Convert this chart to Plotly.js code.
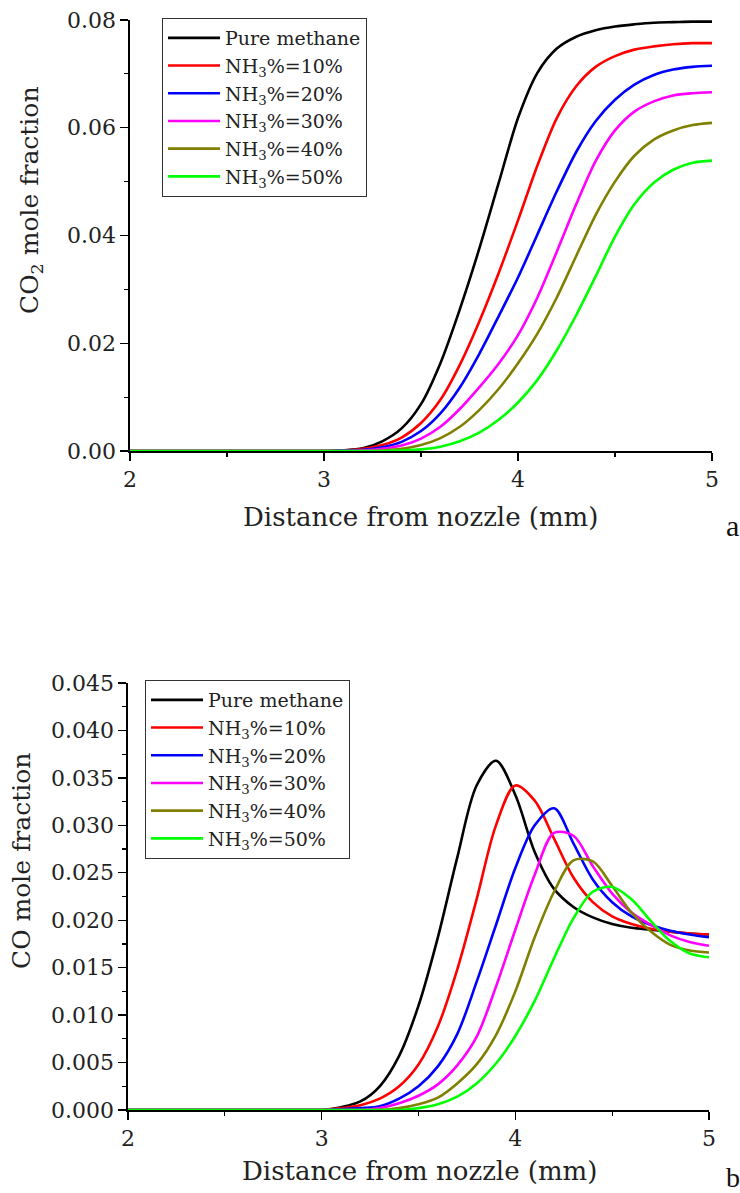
<!DOCTYPE html>
<html>
<head>
<meta charset="utf-8">
<script src="https://cdn.plot.ly/plotly-3.0.1.min.js"></script>
<style>html,body{margin:0;padding:0;background:#fff;}#chart{width:740px;height:1193px;}</style>
</head>
<body>
<div id="chart"></div>
<script>
// Distance from nozzle (mm)
const distance = [2.0,2.1,2.2,2.3,2.4,2.5,2.6,2.7,2.8,2.9,3.0,3.1,3.2,3.3,3.4,3.5,3.6,3.7,3.8,3.9,4.0,4.1,4.2,4.3,4.4,4.5,4.6,4.7,4.8,4.9,5.0];

const seriesNames = ["Pure methane","NH<sub>3</sub>%=10%","NH<sub>3</sub>%=20%","NH<sub>3</sub>%=30%","NH<sub>3</sub>%=40%","NH<sub>3</sub>%=50%"];
const seriesColors = ["#000000","#ff0000","#0000ff","#ff00ff","#808000","#00ff00"];

// (a) CO2 mole fraction
const co2_pure = [0,0,0,0,0,0,0,0,0,0,0,0.0001,0.0005,0.0018,0.0042,0.0087,0.0163,0.0263,0.0375,0.0497,0.0618,0.0702,0.0747,0.0769,0.0781,0.0788,0.0792,0.0795,0.0796,0.0797,0.0797];
const co2_nh10 = [0,0,0,0,0,0,0,0,0,0,0,0.0001,0.0004,0.0011,0.0025,0.0052,0.0095,0.0160,0.0240,0.0330,0.0428,0.0530,0.0618,0.0677,0.0713,0.0733,0.0745,0.0751,0.0755,0.0757,0.0757];
const co2_nh20 = [0,0,0,0,0,0,0,0,0,0,0,0.0001,0.0002,0.0007,0.0017,0.0037,0.0070,0.0118,0.0180,0.0250,0.0322,0.0402,0.0482,0.0555,0.0612,0.0652,0.0680,0.0698,0.0708,0.0713,0.0715];
const co2_nh30 = [0,0,0,0,0,0,0,0,0,0,0,0,0.0001,0.0004,0.0010,0.0023,0.0045,0.0078,0.0118,0.0162,0.0215,0.0285,0.0370,0.0458,0.0538,0.0595,0.0630,0.0649,0.0660,0.0664,0.0666];
const co2_nh40 = [0,0,0,0,0,0,0,0,0,0,0,0,0,0.0001,0.0004,0.0011,0.0024,0.0045,0.0076,0.0115,0.0163,0.0218,0.0285,0.0362,0.0438,0.0500,0.0548,0.0578,0.0595,0.0605,0.0609];
const co2_nh50 = [0,0,0,0,0,0,0,0,0,0,0,0,0,0,0.0001,0.0003,0.0008,0.0018,0.0034,0.0058,0.0090,0.0132,0.0187,0.0252,0.0324,0.0398,0.0458,0.0498,0.0522,0.0535,0.0539];

// (b) CO mole fraction
const co_pure = [0,0,0,0,0,0,0,0,0,0,0,0.0003,0.0009,0.0025,0.0057,0.0110,0.0182,0.0266,0.0342,0.0368,0.0332,0.0272,0.0233,0.0214,0.0203,0.0196,0.0192,0.0190,0.0188,0.0186,0.0185];
const co_nh10 = [0,0,0,0,0,0,0,0,0,0,0,0.0002,0.0005,0.0012,0.0025,0.0048,0.0088,0.0148,0.0222,0.0300,0.0342,0.0326,0.0286,0.0245,0.0219,0.0204,0.0196,0.0191,0.0188,0.0186,0.0185];
const co_nh20 = [0,0,0,0,0,0,0,0,0,0,0,0.0001,0.0002,0.0004,0.0012,0.0025,0.0046,0.0080,0.0135,0.0195,0.0255,0.0300,0.0318,0.0281,0.0243,0.0219,0.0204,0.0195,0.0189,0.0185,0.0182];
const co_nh30 = [0,0,0,0,0,0,0,0,0,0,0,0,0,0.0002,0.0007,0.0015,0.0027,0.0047,0.0077,0.0130,0.0190,0.0248,0.0292,0.0289,0.0257,0.0228,0.0208,0.0195,0.0184,0.0177,0.0173];
const co_nh40 = [0,0,0,0,0,0,0,0,0,0,0,0,0,0,0.0002,0.0006,0.0013,0.0028,0.0048,0.0079,0.0125,0.0182,0.0230,0.0263,0.0262,0.0236,0.0208,0.0188,0.0174,0.0168,0.0166];
const co_nh50 = [0,0,0,0,0,0,0,0,0,0,0,0,0,0,0,0.0002,0.0006,0.0014,0.0028,0.0049,0.0078,0.0115,0.0160,0.0202,0.0230,0.0235,0.0222,0.0199,0.0178,0.0165,0.0161];

const xTickVals = [2,3,4,5];
const xTickText = ["2","3","4","5"];

const co2Series = [co2_pure,co2_nh10,co2_nh20,co2_nh30,co2_nh40,co2_nh50];
const coSeries = [co_pure,co_nh10,co_nh20,co_nh30,co_nh40,co_nh50];

const FONT = "'DejaVu Serif', 'Liberation Serif', serif";
const W = 740, H = 1193;
const px = v => v / W;
const py = v => 1 - v / H;

const traces = [];
co2Series.forEach((ys, i) => {
  traces.push({x: distance, y: ys, type: 'scatter', mode: 'lines', name: seriesNames[i],
    line: {color: seriesColors[i], width: 2.6, shape: 'spline', smoothing: 0.8},
    xaxis: 'x', yaxis: 'y', legend: 'legend', showlegend: true});
});
coSeries.forEach((ys, i) => {
  traces.push({x: distance, y: ys, type: 'scatter', mode: 'lines', name: seriesNames[i],
    line: {color: seriesColors[i], width: 2.6, shape: 'spline', smoothing: 0.9},
    xaxis: 'x2', yaxis: 'y2', legend: 'legend2', showlegend: true});
});

const axisCommon = {
  showgrid: false, zeroline: false, showline: true, linecolor: '#000', linewidth: 1.6,
  ticks: 'outside', ticklen: 8, tickwidth: 1.4, tickcolor: '#000',
  tickfont: {family: FONT, size: 22, color: '#222'}, mirror: false
};

const legendCommon = {
  bgcolor: 'rgba(255,255,255,1)', bordercolor: '#333', borderwidth: 1,
  font: {family: FONT, size: 19, color: '#222'},
  xanchor: 'left', yanchor: 'top', itemwidth: 52, tracegroupgap: 0,
  itemclick: false
};

const layout = {
  width: W, height: H,
  margin: {l: 0, r: 0, t: 0, b: 0},
  paper_bgcolor: '#fff', plot_bgcolor: '#fff',
  showlegend: true,
  xaxis: Object.assign({}, axisCommon, {domain: [px(130), px(712)], range: [2, 5], anchor: 'y',
    tickvals: xTickVals, ticktext: xTickText,
    minor: {ticks: 'outside', ticklen: 4, tickwidth: 1.2, tickcolor: '#000', dtick: 0.5, tick0: 2}}),
  yaxis: Object.assign({}, axisCommon, {domain: [1 - 451 / H, 1 - 20 / H], range: [0, 0.08], anchor: 'x',
    dtick: 0.02, tick0: 0, tickformat: '.2f',
    minor: {ticks: 'outside', ticklen: 4, tickwidth: 1.2, tickcolor: '#000', dtick: 0.01, tick0: 0}}),
  xaxis2: Object.assign({}, axisCommon, {domain: [px(128), px(709)], range: [2, 5], anchor: 'y2',
    tickvals: xTickVals, ticktext: xTickText,
    minor: {ticks: 'outside', ticklen: 4, tickwidth: 1.2, tickcolor: '#000', dtick: 0.5, tick0: 2}}),
  yaxis2: Object.assign({}, axisCommon, {domain: [1 - 1110 / H, 1 - 683 / H], range: [0, 0.045], anchor: 'x2',
    dtick: 0.005, tick0: 0, tickformat: '.3f',
    minor: {ticks: 'outside', ticklen: 4, tickwidth: 1.2, tickcolor: '#000', dtick: 0.0025, tick0: 0}}),
  legend: Object.assign({}, legendCommon, {x: px(162), y: py(18)}),
  legend2: Object.assign({}, legendCommon, {x: px(145), y: py(680)}),
  annotations: [
    {text: 'Distance from nozzle (mm)', xref: 'paper', yref: 'paper', x: px(420), y: py(517),
     xanchor: 'center', yanchor: 'middle', showarrow: false, font: {family: FONT, size: 26, color: '#222'}},
    {text: 'Distance from nozzle (mm)', xref: 'paper', yref: 'paper', x: px(419), y: py(1171),
     xanchor: 'center', yanchor: 'middle', showarrow: false, font: {family: FONT, size: 26, color: '#222'}},
    {text: 'CO<sub>2</sub> mole fraction', xref: 'paper', yref: 'paper', x: px(31), y: py(200),
     xanchor: 'center', yanchor: 'middle', textangle: -90, showarrow: false, font: {family: FONT, size: 25, color: '#222'}},
    {text: 'CO mole fraction', xref: 'paper', yref: 'paper', x: px(21), y: py(861),
     xanchor: 'center', yanchor: 'middle', textangle: -90, showarrow: false, font: {family: FONT, size: 25, color: '#222'}},
    {text: 'a', xref: 'paper', yref: 'paper', x: px(732), y: py(525),
     xanchor: 'center', yanchor: 'middle', showarrow: false, font: {family: "'Liberation Serif', serif", size: 30, color: '#111'}},
    {text: 'b', xref: 'paper', yref: 'paper', x: px(733), y: py(1177),
     xanchor: 'center', yanchor: 'middle', showarrow: false, font: {family: "'Liberation Serif', serif", size: 28, color: '#111'}}
  ]
};

Plotly.newPlot('chart', traces, layout, {displayModeBar: false, staticPlot: true});
</script>
</body>
</html>
